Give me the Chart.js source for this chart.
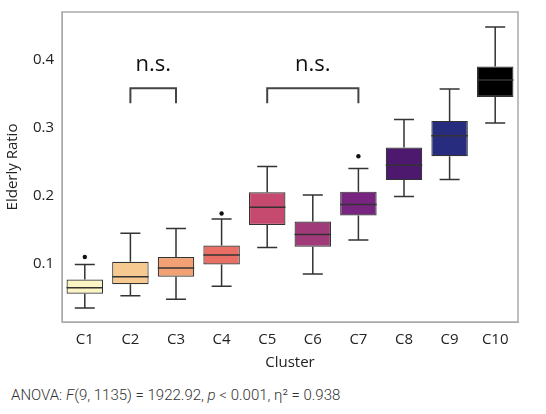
<!DOCTYPE html>
<html><head><meta charset="utf-8">
<script src="https://cdn.jsdelivr.net/npm/chart.js@4"></script>
<style>
body{margin:0;background:#fff;}
#wrap{width:546px;height:376px;}
#foot{font-family:Roboto,sans-serif;font-weight:300;font-size:15px;color:#333;margin:10px 0 0 11px;}
</style></head><body>
<div id="wrap"><canvas id="c" width="546" height="376"></canvas></div>
<div id="foot">ANOVA: <i>F</i>(9, 1135) = 1922.92, <i>p</i> &lt; 0.001, η² = 0.938</div>
<script>
const clusters = ['C1','C2','C3','C4','C5','C6','C7','C8','C9','C10'];
const mins    = [0.035,0.053,0.048,0.067,0.124,0.085,0.135,0.199,0.224,0.307];
const q1s     = [0.056,0.070,0.081,0.099,0.157,0.125,0.171,0.223,0.258,0.345];
const medians = [0.065,0.081,0.094,0.113,0.183,0.143,0.187,0.245,0.288,0.370];
const q3s     = [0.077,0.103,0.110,0.127,0.205,0.162,0.206,0.271,0.310,0.390];
const maxs    = [0.099,0.145,0.152,0.166,0.243,0.201,0.240,0.312,0.357,0.448];
const outliers = [[0.110],[],[],[0.174],[],[],[0.258],[],[],[]];
const colors = ['#fbf5c3','#f6c991','#f2a174','#e96e63','#c6496f','#a03a78','#782581','#4c196e','#282c7e','#000000'];
const brackets = [{from:1,to:2,label:'n.s.'},{from:4,to:6,label:'n.s.'}];

const boxPlugin = {
  id:'boxExtras',
  afterDatasetsDraw(chart){
    const ctx = chart.ctx, x = chart.scales.x, y = chart.scales.y;
    const meta = chart.getDatasetMeta(0);
    ctx.save();
    meta.data.forEach((bar,i)=>{
      const cx = x.getPixelForValue(i), half = bar.width/2, cap = 10;
      ctx.strokeStyle = '#333'; ctx.lineWidth = 1.5;
      ctx.beginPath();
      ctx.moveTo(cx,y.getPixelForValue(q3s[i])); ctx.lineTo(cx,y.getPixelForValue(maxs[i]));
      ctx.moveTo(cx-cap,y.getPixelForValue(maxs[i])); ctx.lineTo(cx+cap,y.getPixelForValue(maxs[i]));
      ctx.moveTo(cx,y.getPixelForValue(q1s[i])); ctx.lineTo(cx,y.getPixelForValue(mins[i]));
      ctx.moveTo(cx-cap,y.getPixelForValue(mins[i])); ctx.lineTo(cx+cap,y.getPixelForValue(mins[i]));
      ctx.moveTo(cx-half,y.getPixelForValue(medians[i])); ctx.lineTo(cx+half,y.getPixelForValue(medians[i]));
      ctx.stroke();
      ctx.fillStyle = '#111';
      outliers[i].forEach(v=>{ ctx.beginPath(); ctx.arc(cx,y.getPixelForValue(v),2.2,0,Math.PI*2); ctx.fill(); });
    });
    ctx.strokeStyle = '#444'; ctx.lineWidth = 2;
    ctx.fillStyle = '#111'; ctx.font = '22px "Open Sans", sans-serif'; ctx.textAlign = 'center'; ctx.textBaseline = 'middle';
    brackets.forEach(b=>{
      const x1 = x.getPixelForValue(b.from), x2 = x.getPixelForValue(b.to);
      const yt = y.getPixelForValue(0.358), yb = y.getPixelForValue(0.336);
      ctx.beginPath(); ctx.moveTo(x1,yb); ctx.lineTo(x1,yt); ctx.lineTo(x2,yt); ctx.lineTo(x2,yb); ctx.stroke();
      ctx.fillText(b.label,(x1+x2)/2,y.getPixelForValue(0.392));
    });
    const a = chart.chartArea;
    ctx.strokeStyle = '#aaa'; ctx.lineWidth = 1.5;
    ctx.strokeRect(a.left,a.top,a.right-a.left,a.bottom-a.top);
    ctx.restore();
  }
};

new Chart(document.getElementById('c').getContext('2d'),{
  type:'bar',
  data:{
    labels:clusters,
    datasets:[{
      data:clusters.map((c,i)=>[q1s[i],q3s[i]]),
      backgroundColor:colors,
      borderColor:'#333',
      borderWidth:1.2,
      borderSkipped:false,
      barPercentage:0.8,
      categoryPercentage:1
    }]
  },
  options:{
    responsive:false,
    animation:false,
    layout:{padding:{top:8,right:28}},
    plugins:{legend:{display:false},tooltip:{enabled:false}},
    scales:{
      x:{
        grid:{display:false,drawTicks:true,tickLength:6,color:'#999'},
        border:{color:'#aaa'},
        ticks:{color:'#222',font:{family:'Open Sans',size:15}},
        title:{display:true,text:'Cluster',color:'#222',font:{family:'Open Sans',size:15},padding:{top:8}},
        afterFit:s=>{s.height=54;}
      },
      y:{
        min:0.0145,max:0.47,
        grid:{display:false,drawTicks:true,tickLength:5},
        border:{color:'#aaa'},
        afterBuildTicks:s=>{s.ticks=[0.1,0.2,0.3,0.4].map(v=>({value:v}));},
        ticks:{color:'#222',font:{family:'Open Sans',size:15},callback:v=>v.toFixed(1)},
        title:{display:true,text:'Elderly Ratio',color:'#222',font:{family:'Open Sans',size:15},padding:{bottom:4}},
        afterFit:s=>{s.width=62;}
      }
    }
  },
  plugins:[boxPlugin]
});
</script>
</body></html>
